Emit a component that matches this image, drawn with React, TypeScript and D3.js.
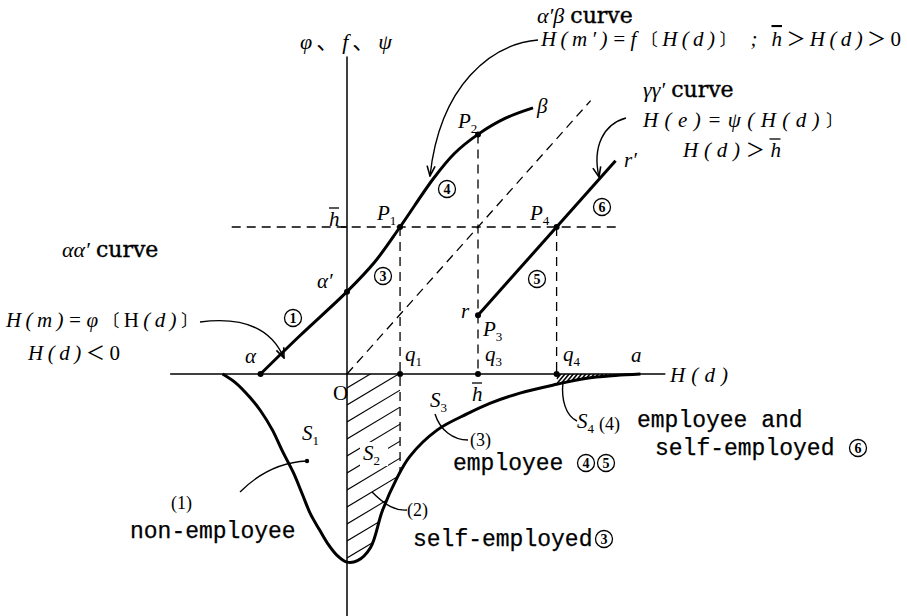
import React from "react";
import * as d3 from "d3";

const WIDTH = 907;
const HEIGHT = 616;

// Values are in units of h̄ on both axes
const H_BAR = 1;
const Q1 = 0.405;
const Q3 = H_BAR;
const Q4 = 1.6;

// α → α′ → P1 → P2 → β  (φ for H(d)<0, f for 0<H(d)<h̄)
const ALPHA_BETA_X = [-0.66, -0.36, 0, 0.21, 0.405, 0.66, 0.82, 1, 1.21, 1.42];
const ALPHA_BETA_Y = [0, 0.26, 0.56, 0.76, 1, 1.33, 1.5, 1.63, 1.74, 1.81];

// γ → γ′ (ψ for H(d)>h̄)
const GAMMA_X = [1, 2.05];
const GAMMA_Y = [0.4, 1.45];

// distribution of H(d), drawn downward below the axis
const DENSITY_X = [
  -0.95, -0.85, -0.74, -0.66, -0.57, -0.49, -0.41, -0.34, -0.28, -0.21, -0.15, -0.08, 0,
  0.08, 0.18, 0.27, 0.38, 0.48, 0.69, 0.92, 1.09, 1.32, 1.6, 1.82, 2.05, 2.24,
];
const DENSITY_Y = [
  0, -0.06, -0.16, -0.25, -0.38, -0.53, -0.67, -0.82, -0.95, -1.06, -1.15, -1.23, -1.28,
  -1.27, -1.18, -0.93, -0.71, -0.56, -0.38, -0.27, -0.2, -0.13, -0.07, -0.03, -0.01, 0,
];

const DIAGONAL_END = 1.86;
const H_BAR_LINE = [-0.88, 2.06];
const X_AXIS_EXTENT = [-1.35, 2.43];
const Y_AXIS_EXTENT = [-1.65, 2.16];

const MATH = "'Liberation Serif', 'Times New Roman', serif";
const HEAD = "'DejaVu Serif', 'Liberation Serif', serif";
const MONO = "'Liberation Mono', 'Courier New', monospace";
const CJK = "'Noto Sans CJK JP', 'Noto Sans CJK SC', sans-serif";

const x = d3.scaleLinear().domain([0, 1]).range([347, 478]);
const y = d3.scaleLinear().domain([0, 1]).range([374, 227]);

const zip = (xs: number[], ys: number[]) => xs.map((v, i) => [v, ys[i]] as [number, number]);

const alphaBeta = zip(ALPHA_BETA_X, ALPHA_BETA_Y);
const gamma = zip(GAMMA_X, GAMMA_Y);
const density = zip(DENSITY_X, DENSITY_Y);

const curveLine = d3
  .line<[number, number]>()
  .x((d) => x(d[0]))
  .y((d) => y(d[1]))
  .curve(d3.curveCatmullRom.alpha(0.5));

const straight = d3
  .line<[number, number]>()
  .x((d) => x(d[0]))
  .y((d) => y(d[1]));

const densityArea = d3
  .area<[number, number]>()
  .x((d) => x(d[0]))
  .y0(y(0))
  .y1((d) => y(d[1]))
  .curve(d3.curveCatmullRom.alpha(0.5));

const densityAt = d3.scaleLinear().domain(DENSITY_X).range(DENSITY_Y);

const P1: [number, number] = [Q1, H_BAR];
const P2: [number, number] = [Q3, ALPHA_BETA_Y[ALPHA_BETA_X.indexOf(Q3)]];
const P3: [number, number] = [Q3, GAMMA_Y[0]];
const P4: [number, number] = [Q4, H_BAR];
const ALPHA: [number, number] = [ALPHA_BETA_X[0], 0];
const ALPHA_P: [number, number] = [0, ALPHA_BETA_Y[ALPHA_BETA_X.indexOf(0)]];

// parallel hatch strokes covering a box; clipped afterwards
function hatch(x0: number, x1: number, y0: number, y1: number, gap: number, slope: number) {
  const span = (x1 - x0) * slope;
  return d3.range(y0, y1 + span + gap, gap).map((yy) => ({
    x1: x0,
    y1: yy,
    x2: x1,
    y2: yy - span,
  }));
}

const Sub = ({ children, size = 13 }: { children: React.ReactNode; size?: number }) => (
  <tspan fontSize={size} fontStyle="normal" dy={5}>
    {children}
  </tspan>
);

const Circled = ({ cx, cy, n }: { cx: number; cy: number; n: number }) => (
  <g>
    <circle cx={cx} cy={cy} r={8.5} fill="#fff" stroke="#000" strokeWidth={1.3} />
    <text
      x={cx}
      y={cy + 0.5}
      fontFamily={MATH}
      fontWeight="bold"
      fontSize={14}
      textAnchor="middle"
      dominantBaseline="central"
    >
      {n}
    </text>
  </g>
);

const Dot = ({ p }: { p: [number, number] }) => <circle cx={x(p[0])} cy={y(p[1])} r={3} fill="#000" />;

const Bar = ({ cx, top, w = 11 }: { cx: number; top: number; w?: number }) => (
  <line x1={cx - w / 2} x2={cx + w / 2} y1={top} y2={top} stroke="#000" strokeWidth={1.3} />
);

const Heading = ({ tx, ty, sym }: { tx: number; ty: number; sym: string }) => (
  <text x={tx} y={ty} fontSize={22}>
    <tspan fontFamily={MATH} fontStyle="italic">
      {sym}
    </tspan>
    <tspan fontFamily={HEAD} dx={6} stroke="#000" strokeWidth={0.4}>
      curve
    </tspan>
  </text>
);

export default function App() {
  const s2Lines = hatch(x(0), x(Q1), y(0) - 20, y(-1.3) + 10, 17, 0.6);
  const s4Lines = hatch(x(Q4), x(2.2), y(0) - 20, y(-0.1) + 6, 5, 1.2);
  const q1Bottom = densityAt(Q1);

  return (
    <svg
      width={WIDTH}
      height={HEIGHT}
      viewBox={`0 0 ${WIDTH} ${HEIGHT}`}
      style={{ position: "absolute", left: 0, top: 0, background: "#fff" }}
    >
      <defs>
        <clipPath id="under-curve">
          <path d={densityArea(density) ?? ""} />
        </clipPath>
        <clipPath id="s2-band">
          <rect x={x(0)} y={y(0)} width={x(Q1) - x(0)} height={HEIGHT - y(0)} />
        </clipPath>
        <clipPath id="s4-band">
          <rect x={x(Q4)} y={y(0)} width={x(2.3) - x(Q4)} height={40} />
        </clipPath>
        <marker
          id="head"
          viewBox="0 0 12 10"
          refX={11}
          refY={5}
          markerWidth={12}
          markerHeight={10}
          markerUnits="userSpaceOnUse"
          orient="auto"
        >
          <path d="M1,1 L11,5 L1,9" fill="none" stroke="#000" strokeWidth={1.6} />
        </marker>
      </defs>

      {/* hatched areas S2 and S4 */}
      <g clipPath="url(#s2-band)">
        <g clipPath="url(#under-curve)">
          {s2Lines.map((l, i) => (
            <line key={i} {...l} stroke="#000" strokeWidth={1.1} />
          ))}
        </g>
      </g>
      <g clipPath="url(#s4-band)">
        <g clipPath="url(#under-curve)">
          {s4Lines.map((l, i) => (
            <line key={i} {...l} stroke="#000" strokeWidth={1.6} />
          ))}
        </g>
      </g>
      <rect x={360} y={442} width={28} height={24} fill="#fff" />

      {/* axes */}
      <line
        x1={x(X_AXIS_EXTENT[0])}
        x2={x(X_AXIS_EXTENT[1])}
        y1={y(0)}
        y2={y(0)}
        stroke="#000"
        strokeWidth={1.5}
      />
      <line
        x1={x(0)}
        x2={x(0)}
        y1={y(Y_AXIS_EXTENT[0])}
        y2={y(Y_AXIS_EXTENT[1])}
        stroke="#000"
        strokeWidth={1.5}
      />

      {/* dashed guides */}
      <g stroke="#000" strokeWidth={1.3} strokeDasharray="9,6" fill="none">
        <line x1={x(H_BAR_LINE[0])} x2={x(H_BAR_LINE[1])} y1={y(H_BAR)} y2={y(H_BAR)} />
        <line x1={x(0)} y1={y(0)} x2={x(DIAGONAL_END)} y2={y(DIAGONAL_END)} />
        <line x1={x(Q1)} x2={x(Q1)} y1={y(P1[1])} y2={y(q1Bottom)} />
        <line x1={x(Q3)} x2={x(Q3)} y1={y(P2[1])} y2={y(0)} />
        <line x1={x(Q4)} x2={x(Q4)} y1={y(P4[1])} y2={y(0)} />
      </g>
      <line x1={x(0) - 6} x2={x(0)} y1={y(H_BAR)} y2={y(H_BAR)} stroke="#000" strokeWidth={1.5} />

      {/* curves */}
      <path d={curveLine(alphaBeta) ?? ""} fill="none" stroke="#000" strokeWidth={3} />
      <path d={straight(gamma) ?? ""} fill="none" stroke="#000" strokeWidth={3} />
      <path d={curveLine(density) ?? ""} fill="none" stroke="#000" strokeWidth={3} />

      {/* points */}
      {[ALPHA, ALPHA_P, P1, P2, P3, P4].map((p, i) => (
        <Dot key={i} p={p} />
      ))}
      {[Q1, Q3, Q4].map((q, i) => (
        <Dot key={`q${i}`} p={[q, 0]} />
      ))}

      {/* arrows and leaders */}
      <g fill="none" stroke="#000" strokeWidth={1.4}>
        <path d="M538,40 C492,44 440,84 430,176" markerEnd="url(#head)" />
        <path d="M626,118 C604,124 592,146 599,177" markerEnd="url(#head)" />
        <path d="M200,322 C246,316 272,330 284,358" markerEnd="url(#head)" />
        <path d="M240,492 C262,470 284,462 307,461" />
        <path d="M372,492 C386,506 396,511 407,510" />
        <path d="M435,414 C440,430 453,440 468,440" />
        <path d="M563,382 C561,400 566,416 577,421" />
      </g>
      <circle cx={307} cy={461} r={2.2} fill="#000" />

      {/* axis titles */}
      <text x={300} y={49} fontFamily={MATH} fontStyle="italic" fontSize={22} textLength={92}>
        φ<tspan fontFamily={CJK} fontStyle="normal">、</tspan>f
        <tspan fontFamily={CJK} fontStyle="normal">、</tspan>ψ
      </text>
      <text x={670} y={382} fontFamily={MATH} fontStyle="italic" fontSize={21} textLength={58}>
        H(d)
      </text>

      {/* curve headings and formulas */}
      <Heading tx={537} ty={23} sym="α′β" />
      <text x={541} y={46} fontFamily={MATH} fontStyle="italic" fontSize={21} textLength={360}>
        H(m′)=f<tspan fontFamily={CJK} fontStyle="normal" fontSize={17}>〔</tspan>H(d)
        <tspan fontFamily={CJK} fontStyle="normal" fontSize={17}>〕</tspan> ;{" "}
        <tspan textDecoration="overline">h</tspan>
        <tspan fontFamily={CJK} fontStyle="normal" fontSize={19}>＞</tspan>H(d)
        <tspan fontFamily={CJK} fontStyle="normal" fontSize={19}>＞</tspan>
        <tspan fontStyle="normal">0</tspan>
      </text>

      <Heading tx={643} ty={97} sym="γγ′" />
      <text x={643} y={127} fontFamily={MATH} fontStyle="italic" fontSize={21} textLength={200}>
        H(e)=ψ(H(d)<tspan fontFamily={CJK} fontStyle="normal" fontSize={17}>〕</tspan>
      </text>
      <text x={683} y={157} fontFamily={MATH} fontStyle="italic" fontSize={21} textLength={98}>
        H(d)<tspan fontFamily={CJK} fontStyle="normal" fontSize={19}>＞</tspan>h
      </text>
      <Bar cx={775} top={139} />

      <Heading tx={62} ty={257} sym="αα′" />
      <text x={6} y={327} fontFamily={MATH} fontStyle="italic" fontSize={21} textLength={192}>
        H(m)=φ<tspan fontFamily={CJK} fontStyle="normal" fontSize={17}>〔</tspan>
        <tspan fontStyle="normal">H</tspan>(d)
        <tspan fontFamily={CJK} fontStyle="normal" fontSize={17}>〕</tspan>
      </text>
      <text x={28} y={360} fontFamily={MATH} fontStyle="italic" fontSize={21} textLength={92}>
        H(d)<tspan fontFamily={CJK} fontStyle="normal" fontSize={19}>＜</tspan>
        <tspan fontStyle="normal">0</tspan>
      </text>

      {/* point labels */}
      <g fontFamily={MATH} fontStyle="italic" fontSize={21}>
        <text x={537} y={113}>β</text>
        <text x={458} y={128}>
          P<Sub>2</Sub>
        </text>
        <text x={377} y={220}>
          P<Sub>1</Sub>
        </text>
        <text x={530} y={220}>
          P<Sub>4</Sub>
        </text>
        <text x={329} y={226}>h</text>
        <text x={624} y={167}>r′</text>
        <text x={317} y={288}>α′</text>
        <text x={245} y={363}>α</text>
        <text x={461} y={318}>r</text>
        <text x={483} y={336}>
          P<Sub>3</Sub>
        </text>
        <text x={405} y={361}>
          q<Sub>1</Sub>
        </text>
        <text x={485} y={361}>
          q<Sub>3</Sub>
        </text>
        <text x={563} y={361}>
          q<Sub>4</Sub>
        </text>
        <text x={631} y={362}>a</text>
        <text x={472} y={401}>h</text>
        <text x={430} y={407}>
          S<Sub>3</Sub>
        </text>
        <text x={302} y={440}>
          S<Sub>1</Sub>
        </text>
        <text x={363} y={460}>
          S<Sub>2</Sub>
        </text>
        <text x={577} y={428}>
          S<Sub>4</Sub>
        </text>
      </g>
      <Bar cx={334} top={208} w={10} />
      <Bar cx={477} top={383} w={10} />
      <text x={333} y={400} fontFamily={MATH} fontSize={21}>
        O
      </text>

      {/* segment numbers */}
      <Circled cx={293} cy={318} n={1} />
      <Circled cx={383} cy={276} n={3} />
      <Circled cx={447} cy={189} n={4} />
      <Circled cx={537} cy={279} n={5} />
      <Circled cx={602} cy={207} n={6} />

      {/* group labels */}
      <g fontFamily={MATH} fontSize={18}>
        <text x={171} y={509}>(1)</text>
        <text x={407} y={516}>(2)</text>
        <text x={470} y={446}>(3)</text>
        <text x={599} y={430}>(4)</text>
      </g>
      <g fontFamily={MONO} fontSize={23} stroke="#000" strokeWidth={0.25}>
        <text x={130} y={538}>non-employee</text>
        <text x={413} y={546}>self-employed</text>
        <text x={453} y={470}>employee</text>
        <text x={637} y={427}>employee and</text>
        <text x={655} y={455}>self-employed</text>
      </g>
      <Circled cx={604} cy={539} n={3} />
      <Circled cx={586} cy={463} n={4} />
      <Circled cx={606} cy={463} n={5} />
      <Circled cx={858} cy={448} n={6} />
    </svg>
  );
}
